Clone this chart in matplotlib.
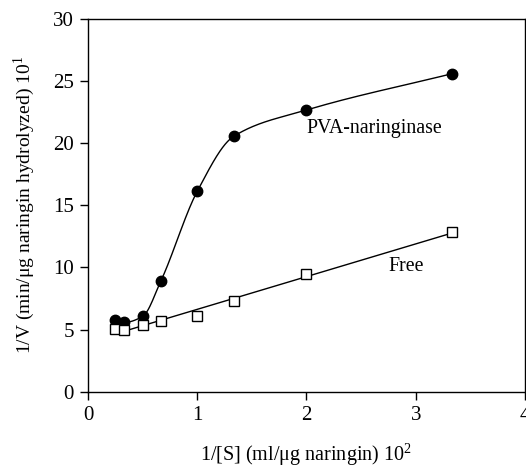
import numpy as np
import matplotlib
matplotlib.use("Agg")
import matplotlib.pyplot as plt

plt.rcParams['font.family'] = ['Liberation Serif', 'DejaVu Serif']
plt.rcParams['mathtext.fontset'] = 'custom'
plt.rcParams['mathtext.rm'] = 'Liberation Serif'

inv_s = [0.25, 0.333, 0.5, 0.667, 1.0, 1.333, 2.0, 3.333]
pva = [5.77, 5.58, 6.06, 8.91, 16.13, 20.55, 22.67, 25.6]
free = [5.04, 4.96, 5.37, 5.69, 6.09, 7.30, 9.44, 12.88]


def pchip(x, y, xs):
    x = np.asarray(x, float); y = np.asarray(y, float)
    h = np.diff(x); d = np.diff(y) / h
    n = len(x); m = np.zeros(n)
    for k in range(1, n - 1):
        if d[k - 1] * d[k] > 0:
            w1 = 2 * h[k] + h[k - 1]; w2 = h[k] + 2 * h[k - 1]
            m[k] = (w1 + w2) / (w1 / d[k - 1] + w2 / d[k])
    m[0] = d[0]; m[-1] = d[-1]
    out = np.empty_like(xs)
    for i, xv in enumerate(xs):
        k = min(max(np.searchsorted(x, xv) - 1, 0), n - 2)
        t = (xv - x[k]) / h[k]
        h00 = 2*t**3 - 3*t**2 + 1; h10 = t**3 - 2*t**2 + t
        h01 = -2*t**3 + 3*t**2; h11 = t**3 - t**2
        out[i] = h00*y[k] + h10*h[k]*m[k] + h01*y[k+1] + h11*h[k]*m[k+1]
    return out

fig = plt.figure(figsize=(5.26, 4.67), dpi=100)
ax = fig.add_axes([0.1673, 0.1612, 0.8307, 0.7981])

xs = np.linspace(inv_s[0], inv_s[-1], 400)
ax.plot(xs, pchip(inv_s, pva, xs), color='black', lw=1.0)
coef = np.polyfit(inv_s, free, 1)
xl = np.array([inv_s[0], inv_s[-1]])
ax.plot(xl, np.polyval(coef, xl), color='black', lw=1.0)

ax.plot(inv_s, pva, 'o', color='black', markersize=7.5, zorder=3)
ax.plot(inv_s, free, 's', markerfacecolor='white', markeredgecolor='black',
        markersize=7.5, markeredgewidth=1.0, zorder=3)

ax.text(2.0, 21.15, 'PVA-naringinase', fontsize=14.3, va='center', ha='left')
ax.text(2.75, 10.06, 'Free', fontsize=14.3, va='center', ha='left')

ax.set_xlim(0, 4)
ax.set_ylim(0, 30)
ax.set_xticks([0, 1, 2, 3, 4])
ax.set_yticks([0, 5, 10, 15, 20, 25, 30])
ax.tick_params(direction='out', length=6, width=1, labelsize=15, pad=4)
for s in ax.spines.values():
    s.set_linewidth(1.0)

ax.set_xlabel(r'1/[S] (ml/$\mathrm{\mu}$g naringin) 10$^{2}$', fontsize=14.5, labelpad=12)
ax.set_ylabel(r'1/V (min/$\mathrm{\mu}$g naringin hydrolyzed) 10$^{1}$', fontsize=14, labelpad=12)

fig.savefig('out.png', dpi=100)
